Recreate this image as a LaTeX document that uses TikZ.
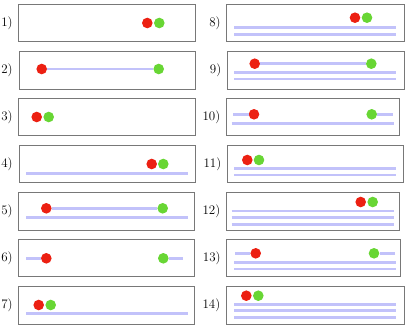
\documentclass[tikz,border=0pt]{standalone}
\begin{document}
\definecolor{dotred}{RGB}{236,32,18}
\definecolor{dotgreen}{RGB}{104,214,52}
\definecolor{track}{RGB}{194,194,250}
\definecolor{frame}{RGB}{120,120,120}
\begin{tikzpicture}[x=1pt,y=-1pt,
  panel/.style={draw=frame,line width=0.9pt},
  lab/.style={anchor=east,inner sep=0pt,font=\fontsize{13}{15}\selectfont},
  rdot/.style={circle,fill=dotred,inner sep=0pt,minimum size=10.6pt},
  gdot/.style={circle,fill=dotgreen,inner sep=0pt,minimum size=10.6pt},
  trackline/.style={draw=track,line width=2.8pt}]
\useasboundingbox (0,0) rectangle (407,329);
% ---------- left column ----------
% 1
\draw[panel] (18.5,4) rectangle (195.5,41.7);
\node[lab] (l1) at (12.8,22.8) {1)};
\node[rdot] (r1) at (147.3,23) {};
\node[gdot] (g1) at (159.3,23) {};
% 2
\draw[panel] (19.3,51) rectangle (195,89);
\node[lab] (l2) at (12.8,70) {2)};
\node[rdot] (r2) at (41.7,69) {};
\node[gdot] (g2) at (158.7,69) {};
\draw[trackline] (r2) -- (g2);
% 3
\draw[panel] (18.5,98.3) rectangle (195,135.7);
\node[lab] (l3) at (12.8,117) {3)};
\node[rdot] (r3) at (36.7,117) {};
\node[gdot] (g3) at (48.7,117) {};
% 4
\draw[panel] (19,145) rectangle (195,182.7);
\node[lab] (l4) at (12.8,163.8) {4)};
\coordinate (a4) at (26,173.3); \coordinate (b4) at (187.7,173.3);
\draw[trackline] (a4) -- (b4);
\node[rdot] (r4) at (151.7,164) {};
\node[gdot] (g4) at (163.3,164) {};
% 5
\draw[panel] (18.5,192.3) rectangle (194.3,230);
\node[lab] (l5) at (12.8,211.2) {5)};
\coordinate (a5) at (26,217.7); \coordinate (b5) at (187.7,217.7);
\draw[trackline] (a5) -- (b5);
\node[rdot] (r5) at (46.3,208.3) {};
\node[gdot] (g5) at (162.7,208.3) {};
\draw[trackline] (r5) -- (g5);
% 6
\draw[panel] (18.5,239.3) rectangle (194.3,276.7);
\node[lab] (l6) at (12.8,258) {6)};
\coordinate (a6) at (26,258.3); \coordinate (b6) at (183.3,258.3);
\node[rdot] (r6) at (46.3,258.3) {};
\node[gdot] (g6) at (163.3,258.3) {};
\draw[trackline] (a6) -- (r6);
\draw[trackline] (g6) -- (b6);
% 7
\draw[panel] (18.5,286) rectangle (194.3,324);
\node[lab] (l7) at (12.8,305) {7)};
\coordinate (a7) at (26,313.7); \coordinate (b7) at (187.7,313.7);
\draw[trackline] (a7) -- (b7);
\node[rdot] (r7) at (38.7,305) {};
\node[gdot] (g7) at (50.7,305) {};
% ---------- right column ----------
% 8
\draw[panel] (226.7,4) rectangle (404,41.7);
\node[lab] (l8) at (220.8,22.8) {8)};
\coordinate (a8) at (234.3,27.7); \coordinate (b8) at (396,27.7);
\coordinate (c8) at (234.3,34.3); \coordinate (d8) at (396,34.3);
\draw[trackline] (a8) -- (b8);
\draw[trackline] (c8) -- (d8);
\node[rdot] (r8) at (355,17.7) {};
\node[gdot] (g8) at (367,17.7) {};
% 9
\draw[panel] (227.7,51) rectangle (404,89.3);
\node[lab] (l9) at (221.5,70) {9)};
\coordinate (a9) at (234.3,72.3); \coordinate (b9) at (396,72.3);
\coordinate (c9) at (234.3,79); \coordinate (d9) at (396,79);
\draw[trackline] (a9) -- (b9);
\draw[trackline] (c9) -- (d9);
\node[rdot] (r9) at (254.7,63.7) {};
\node[gdot] (g9) at (371.3,63.7) {};
\draw[trackline] (r9) -- (g9);
% 10
\draw[panel] (226,98.3) rectangle (399.3,135.7);
\node[lab] (l10) at (220.5,117) {10)};
\coordinate (a10) at (231.7,123.3); \coordinate (b10) at (394,123.3);
\draw[trackline] (a10) -- (b10);
\coordinate (e10) at (233.3,114.3); \coordinate (f10) at (392.7,114.3);
\node[rdot] (r10) at (254,114.3) {};
\node[gdot] (g10) at (371.7,114.3) {};
\draw[trackline] (e10) -- (r10);
\draw[trackline] (g10) -- (f10);
% 11
\draw[panel] (227.7,145) rectangle (403,182.7);
\node[lab] (l11) at (221.5,163.8) {11)};
\coordinate (a11) at (234.3,168.3); \coordinate (b11) at (396,168.3);
\coordinate (c11) at (234.3,175); \coordinate (d11) at (396,175);
\draw[trackline] (a11) -- (b11);
\draw[trackline] (c11) -- (d11);
\node[rdot] (r11) at (247.3,160) {};
\node[gdot] (g11) at (259,160) {};
% 12
\draw[panel] (226,192.3) rectangle (399.3,230);
\node[lab] (l12) at (220.5,211.2) {12)};
\coordinate (a12) at (231.7,211); \coordinate (b12) at (394,211);
\coordinate (c12) at (231.7,217.7); \coordinate (d12) at (394,217.7);
\coordinate (e12) at (231.7,224.3); \coordinate (f12) at (394,224.3);
\draw[trackline] (a12) -- (b12);
\draw[trackline] (c12) -- (d12);
\draw[trackline] (e12) -- (f12);
\node[rdot] (r12) at (360.7,202) {};
\node[gdot] (g12) at (372.7,202) {};
% 13
\draw[panel] (226.7,239.3) rectangle (400,276.7);
\node[lab] (l13) at (220.8,258) {13)};
\coordinate (a13) at (234,262.3); \coordinate (b13) at (396,262.3);
\coordinate (c13) at (234,269); \coordinate (d13) at (396,269);
\draw[trackline] (a13) -- (b13);
\draw[trackline] (c13) -- (d13);
\coordinate (e13) at (235,253.3); \coordinate (f13) at (395,253.3);
\node[rdot] (r13) at (255.7,253.3) {};
\node[gdot] (g13) at (374,253.3) {};
\draw[trackline] (e13) -- (r13);
\draw[trackline] (g13) -- (f13);
% 14
\draw[panel] (226,286) rectangle (404,324);
\node[lab] (l14) at (220.5,305) {14)};
\coordinate (a14) at (234,304.3); \coordinate (b14) at (396,304.3);
\coordinate (c14) at (234,310.7); \coordinate (d14) at (396,310.7);
\coordinate (e14) at (234,317.3); \coordinate (f14) at (396,317.3);
\draw[trackline] (a14) -- (b14);
\draw[trackline] (c14) -- (d14);
\draw[trackline] (e14) -- (f14);
\node[rdot] (r14) at (246.3,295.7) {};
\node[gdot] (g14) at (258.3,295.7) {};
\end{tikzpicture}
\end{document}
